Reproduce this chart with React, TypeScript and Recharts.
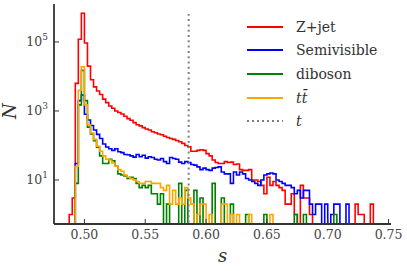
import { LineChart, Line, XAxis, YAxis } from "recharts";

const FONT = "DejaVu Serif, Liberation Serif, serif";
const INK = "#333333";
const LABEL = "#444444";

const RED = "#ff0000";
const BLUE = "#0000ff";
const GREEN = "#008000";
const ORANGE = "#ffa500";
const GRAY = "#808080";

// common histogram grid (bin k starts at BIN_START + k * BIN_WIDTH)
const BIN_START = 0.4875;
const BIN_WIDTH = 0.0025;
const FLOOR = 0.1; // empty bins drop below the log axis

const ZJET = [
  1, 3, 6300, 120000, 680000, 93000, 20000, 8000, 5000, 3800,
  3000, 2200, 1750, 1400, 1200, 1000, 900, 820, 700, 600,
  540, 460, 400, 370, 330, 300, 280, 250, 235, 215,
  205, 185, 170, 160, 150, 140, 128, 115, 100, 92,
  68, 68, 72, 75, 72, 58, 50, 38, 32, 30,
  30, 34, 32, 33, 28, 29, 20, 19, 19, 20,
  10, 10, 9, 7, 4, 12, 7, 9, 7, 6,
  5, 2, 2, 4, 1, 0, 7, 3, 3, 1,
  0, 0, 0, 0, 0, 0, 0, 0, 0, 0,
  0, 0, 0, 0, 2, 1, 1, 0, 0, 2,
];

const SEMIVISIBLE = [
  0, 0, 30, 2000, 2900, 800, 550, 380, 280, 210,
  160, 110, 90, 80, 72, 80, 66, 62, 55, 54,
  50, 46, 55, 47, 52, 43, 47, 45, 40, 38,
  42, 34, 30, 45, 42, 40, 33, 30, 34, 32,
  28, 27, 24, 20, 22, 20, 19, 22, 23, 24,
  17, 15, 15, 8, 17, 14, 17, 15, 11, 10,
  9, 8, 7, 10, 14, 15, 16, 15, 10, 9,
  8, 7, 7, 6, 4, 5, 3, 5, 5, 2,
  1, 2, 2, 0, 2, 0, 1, 2, 2, 0,
  0, 2,
];

const DIBOSON = [
  0, 0, 8, 1500, 15000, 2000, 340, 215, 138, 89,
  50, 30, 30, 40, 36, 25, 15, 14, 13, 11,
  12, 11, 8, 6, 7, 6, 7, 4, 4, 2,
  4, 0, 2, 0, 0, 0, 8, 0, 5, 0,
  0, 5, 0, 3, 0, 0, 0, 8, 0, 0,
  3, 0, 0, 2, 0, 0, 0, 0, 1, 0,
  0, 0, 0, 0, 1, 0, 0, 0, 0, 0,
  0, 0, 0, 0, 1, 0, 0, 1, 0, 0,
  0, 0, 0, 0, 0, 0, 0, 1,
];

const TTBAR = [
  0, 0, 25, 4000, 19000, 1500, 400, 230, 150, 95,
  68, 50, 40, 38, 31, 25, 20, 18, 14, 12,
  11, 10, 9, 8, 8, 9, 9, 8, 8, 8,
  6, 5, 7, 2, 5, 2, 3, 2, 6, 3,
  2, 0, 1, 2, 2, 0, 1, 0, 0, 0,
  2, 2, 0, 1, 0, 1, 0, 0, 0, 1,
  0, 0, 0, 0, 0, 0, 1,
];

const T_CUT = 0.5857;
const T_TOP = 650000;

const X_DOMAIN = [0.475, 0.752];
const Y_DOMAIN = [0.53, 1.26e6];
const X_TICKS = [0.5, 0.55, 0.6, 0.65, 0.7, 0.75];
const Y_TICKS = [10, 1000, 100000];

const SERIES = [
  { name: "Z+jet", counts: ZJET, color: RED },
  { name: "Semivisible", counts: SEMIVISIBLE, color: BLUE },
  { name: "diboson", counts: DIBOSON, color: GREEN },
  { name: "tt̄", counts: TTBAR, color: ORANGE },
];

function steps(counts: number[]) {
  const pts = [{ s: BIN_START, n: FLOOR }];
  counts.forEach((c, i) => pts.push({ s: BIN_START + i * BIN_WIDTH, n: c > 0 ? c : FLOOR }));
  pts.push({ s: BIN_START + counts.length * BIN_WIDTH, n: FLOOR });
  return pts;
}

const cutLine = [
  { s: T_CUT, n: FLOOR },
  { s: T_CUT, n: T_TOP },
];

function PowTick({ x, y, payload }: any) {
  const exp = Math.round(Math.log10(payload.value));
  return (
    <text x={x} y={y + 4} textAnchor="end" fill={LABEL} fontSize={12.5} fontFamily={FONT}>
      10<tspan dy={-6} fontSize={9}>{exp}</tspan>
    </text>
  );
}

function LegendBox() {
  const rows = [
    ...SERIES.map((s) => ({ name: s.name, color: s.color, dash: undefined as string | undefined })),
    { name: "t", color: GRAY, dash: "2 3" },
  ];
  return (
    <div style={{ position: "absolute", left: 246, top: 15, fontFamily: FONT, fontSize: 14, color: "#333" }}>
      {rows.map((r) => (
        <div key={r.name} style={{ display: "flex", alignItems: "center", height: 23.6 }}>
          <svg width={38} height={6} style={{ marginRight: 12 }}>
            <line x1={1} x2={37} y1={3} y2={3} stroke={r.color} strokeWidth={r.dash ? 2 : 1.8} strokeDasharray={r.dash} />
          </svg>
          <span style={{ fontStyle: r.name === "t" || r.name === "tt̄" ? "italic" : "normal" }}>{r.name}</span>
        </div>
      ))}
    </div>
  );
}

export default function App() {
  return (
    <div style={{ position: "absolute", left: 0, top: 0, width: 407, height: 271, background: "#fff" }}>
      <LineChart width={407} height={271} margin={{ top: 4, right: 16, bottom: 0, left: 0 }}>
        <XAxis
          xAxisId="b" type="number" dataKey="s" domain={X_DOMAIN} allowDataOverflow
          ticks={X_TICKS} tickFormatter={(v) => v.toFixed(2)} height={47}
          axisLine={{ stroke: INK, strokeWidth: 1.8 }} tickLine={{ stroke: INK, strokeWidth: 1 }}
          tickSize={-5} tickMargin={11}
          tick={{ fill: LABEL, fontSize: 12.5, fontFamily: FONT }}
        />
        <XAxis
          xAxisId="t" orientation="top" type="number" dataKey="s" domain={X_DOMAIN} allowDataOverflow
          ticks={X_TICKS} tickFormatter={() => ""} height={0}
          axisLine={{ stroke: INK, strokeWidth: 1.8 }} tickLine={{ stroke: INK, strokeWidth: 1 }}
          tickSize={-5}
        />
        <YAxis
          yAxisId="l" scale="log" type="number" dataKey="n" domain={Y_DOMAIN} allowDataOverflow
          ticks={Y_TICKS} width={54}
          axisLine={{ stroke: INK, strokeWidth: 1.8 }} tickLine={{ stroke: INK, strokeWidth: 1 }}
          tickSize={-5} tickMargin={11} tick={<PowTick />}
        />
        <YAxis
          yAxisId="r" orientation="right" scale="log" type="number" dataKey="n" domain={Y_DOMAIN} allowDataOverflow
          ticks={Y_TICKS} width={0} tickFormatter={() => ""}
          axisLine={{ stroke: INK, strokeWidth: 1.8 }} tickLine={{ stroke: INK, strokeWidth: 1 }}
          tickSize={-5}
        />
        {SERIES.map((s) => (
          <Line
            key={s.name} xAxisId="b" yAxisId="l" data={steps(s.counts)} dataKey="n"
            type="stepAfter" stroke={s.color} strokeWidth={1.6} dot={false} activeDot={false}
            isAnimationActive={false}
          />
        ))}
        <Line
          xAxisId="b" yAxisId="l" data={cutLine} dataKey="n" type="linear"
          stroke={GRAY} strokeWidth={2} strokeDasharray="2 3.3" dot={false} activeDot={false}
          isAnimationActive={false}
        />
        <text
          x={16} y={111} transform="rotate(-90 16 111)" textAnchor="middle"
          fontFamily={FONT} fontSize={18} fontStyle="italic" fill="#333"
        >
          N
        </text>
        <text x={222.5} y={262} textAnchor="middle" fontFamily={FONT} fontSize={18} fontStyle="italic" fill="#333">
          s
        </text>
      </LineChart>
      <LegendBox />
    </div>
  );
}
